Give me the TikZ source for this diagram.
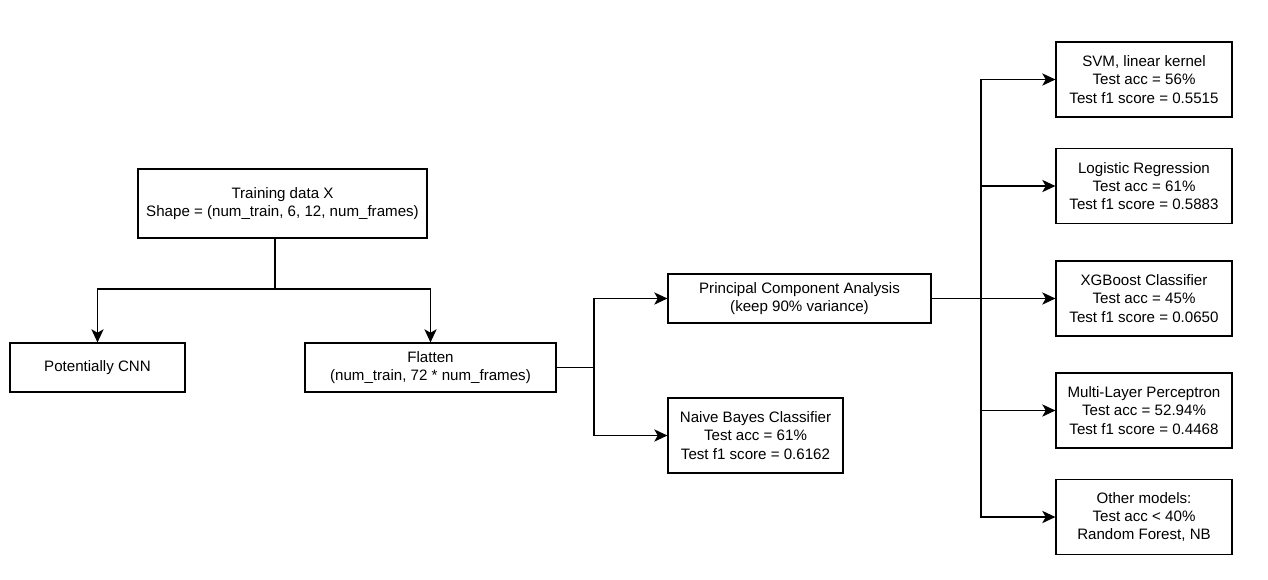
\documentclass[tikz,border=0pt]{standalone}
\usepackage{fontspec}
\setmainfont{Liberation Sans}
\usetikzlibrary{arrows.meta}

\tikzset{
  box/.style={draw, line width=0.7pt, align=center, inner sep=2pt},
  modelbox/.style={box, minimum width=3.52cm, minimum height=1.5cm},
  arr/.style={line width=0.7pt, -{Stealth[length=7.5pt, width=7pt, inset=2pt]}},
  wire/.style={line width=0.7pt}
}

\begin{document}
\begin{tikzpicture}[x=0.02cm, y=-0.02cm, font=\fontsize{8.6}{10.3}\selectfont]
  \useasboundingbox (0,0) rectangle (1268,579);

  %%%%% LEFT PART %%%%%
  \node[box, minimum width=5.78cm, minimum height=1.38cm] (train) at (282.5,203.5)
    {Training data X\\Shape = (num\_train, 6, 12, num\_frames)};
  \node[box, minimum width=3.5cm, minimum height=0.98cm] (cnn) at (97.5,367.5)
    {Potentially CNN};
  \node[box, minimum width=5.02cm, minimum height=0.98cm] (flat) at (430.5,367.5)
    {Flatten\\(num\_train, 72 * num\_frames)};

  %%%%% MIDDLE PART %%%%%
  \node[box, minimum width=5.26cm, minimum height=0.98cm] (pca) at (799.5,298.5)
    {Principal Component Analysis\\(keep 90\% variance)};
  \node[box, minimum width=3.5cm, minimum height=1.5cm] (nb) at (755.5,435.5)
    {Naive Bayes Classifier\\Test acc = 61\%\\Test f1 score = 0.6162};

  %%%%% MODELS %%%%%
  \node[modelbox] (svm) at (1144,79.5)
    {SVM, linear kernel\\Test acc = 56\%\\Test f1 score = 0.5515};
  \node[modelbox] (logreg) at (1144,186)
    {Logistic Regression\\Test acc = 61\%\\Test f1 score = 0.5883};
  \node[modelbox] (xgb) at (1144,298.5)
    {XGBoost Classifier\\Test acc = 45\%\\Test f1 score = 0.0650};
  \node[modelbox] (mlp) at (1144,410.5)
    {Multi-Layer Perceptron\\Test acc = 52.94\%\\Test f1 score = 0.4468};
  \node[modelbox] (other) at (1144,517)
    {Other models:\\Test acc < 40\%\\Random Forest, NB};

  %%%%% CONNECTORS %%%%%
  \coordinate (split1) at (275,289);
  \draw[wire] (train.south -| split1) -- (split1);
  \draw[arr] (split1) -| (cnn);
  \draw[arr] (split1) -| (flat);

  \coordinate (split2) at (594,367.5);
  \draw[wire] (flat) -- (split2);
  \draw[arr] (split2) |- (pca);
  \draw[arr] (split2) |- (nb);

  \coordinate (split3) at (981,298.5);
  \draw[arr] (pca) -- (xgb);
  \draw[arr] (split3) |- (svm);
  \draw[arr] (split3) |- (logreg);
  \draw[arr] (split3) |- (mlp);
  \draw[arr] (split3) |- (other);
\end{tikzpicture}
\end{document}
